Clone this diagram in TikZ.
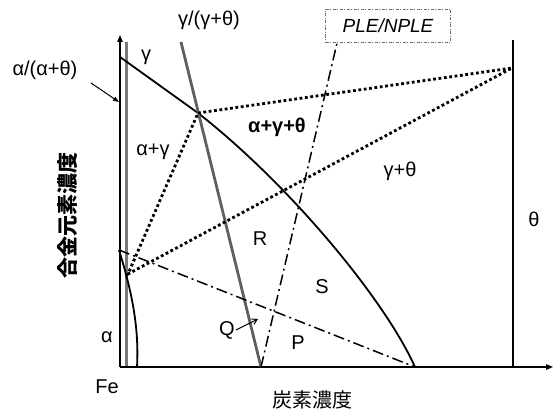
\documentclass[tikz,border=0pt]{standalone}
\usepackage{fontspec}
\setmainfont{Liberation Sans}
\newfontfamily\jpfont{Noto Sans CJK JP}
\usetikzlibrary{arrows.meta, positioning, calc}
\definecolor{phgrey}{RGB}{95,95,95}
\definecolor{boxgrey}{RGB}{110,110,110}
\tikzset{
  lbl/.style={inner sep=1pt, font=\fontsize{20}{22}\selectfont},
  axis/.style={line width=1.3pt, -{Triangle[length=7pt, width=5.5pt]}},
  phase/.style={line width=1.8pt, color=black},
  greyline/.style={line width=2.8pt, color=phgrey},
  tieline/.style={line width=2.8pt, dash pattern=on 2.8pt off 2.6pt},
  dashdot/.style={line width=1.5pt, dash pattern=on 11pt off 4pt on 2pt off 4pt},
  plebox/.style={draw=boxgrey, line width=0.9pt, dash pattern=on 3pt off 1.5pt on 1pt off 1.5pt,
    minimum width=125pt, minimum height=33pt, font=\fontsize{19}{22}\selectfont\itshape}
}
\begin{document}
\begin{tikzpicture}[x=1pt, y=-1pt]
  \useasboundingbox (0,0) rectangle (554,412);

  % Points
  \coordinate (origin) at (120,367);
  \coordinate (ytip) at (120,35);
  \coordinate (xtip) at (553,367);
  \coordinate (greytop) at (126,42);
  \coordinate (greybot) at (126,367);
  \coordinate (gammatop) at (120,57);
  \coordinate (triple) at (198,113);
  \coordinate (eut) at (415,367);
  \coordinate (gbtop) at (181,42);
  \coordinate (gbbot) at (261,367);
  \coordinate (thetapt) at (512,68);
  \coordinate (alphapt) at (128,274);
  \coordinate (alphatop) at (119,250);
  \coordinate (alphabot) at (137,367);
  \coordinate (thetatop) at (513,40);
  \coordinate (thetabot) at (513,367);
  \coordinate (pointer) at (91,83);
  \coordinate (pointee) at (119,102);
  \coordinate (qtip) at (258,319);

  % Nodes
  \node[plebox] (ple) at (388,26) {PLE/NPLE};
  \node[lbl] (aat) at (45,70) {α/(α+θ)};
  \node[lbl] (ggt) at (209,20) {γ/(γ+θ)};
  \node[lbl] (gam) at (146,57) {γ};
  \node[lbl] (ag) at (153,152) {α+γ};
  \node[lbl, font=\fontsize{20}{22}\selectfont\bfseries] (agt) at (277,127) {α+γ+θ};
  \node[lbl] (gt) at (400,171) {γ+θ};
  \node[lbl] (regr) at (260,239) {R};
  \node[lbl] (regs) at (322,287) {S};
  \node[lbl] (regp) at (298,343) {P};
  \node[lbl] (regq) at (227,330) {Q};
  \node[lbl] (alp) at (107,337) {α};
  \node[lbl] (the) at (534,219) {θ};
  \node[lbl] (fe) at (107,387) {Fe};
  \node[inner sep=0pt, font=\jpfont\fontsize{20}{22}\selectfont] (xlab) at (312,400) {炭素濃度};
  \node[inner sep=0pt, rotate=90, font=\jpfont\bfseries\fontsize{21}{22}\selectfont] (ylab) at (68,215) {合金元素濃度};

  % Axes
  \draw[greyline, line width=3pt, color=phgrey!85] (greytop) -- (greybot);
  \draw[axis] (origin) -- (ytip);
  \draw[axis] (origin) -- (xtip);

  % Phase boundaries
  \draw[phase] (gammatop) -- (triple) .. controls (290,185) and (385,300) .. (eut);
  \draw[phase] (alphatop) .. controls (133,295) and (139,330) .. (alphabot);
  \draw[phase] (thetatop) -- (thetabot);
  \draw[greyline] (gbtop) -- (gbbot);

  % Tie triangle
  \draw[tieline] (triple) -- (thetapt) -- (alphapt) -- cycle;

  % PLE/NPLE lines
  \draw[dashdot] (alphatop) -- (eut);
  \draw[dashdot] (gbbot) -- ($(ple.south west)+(12,0)$);

  % Pointers
  \draw[line width=1pt, -{Triangle[length=6pt, width=4.5pt]}] (pointer) -- (pointee);
  \draw[line width=1pt, -{Straight Barb[length=5pt, width=6pt]}] (regq.east) -- (qtip);
\end{tikzpicture}
\end{document}
